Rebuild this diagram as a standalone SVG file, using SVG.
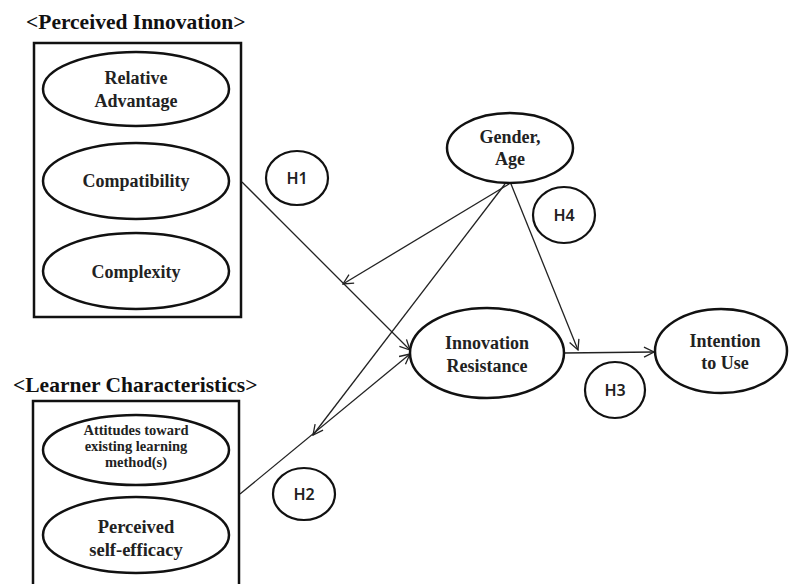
<svg xmlns="http://www.w3.org/2000/svg" width="791" height="584" viewBox="0 0 791 584">
<style>
.box{fill:none;stroke:#111;stroke-width:2.5}
.ell{fill:#fff;stroke:#111;stroke-width:2.5}
.hyp{fill:#fff;stroke:#111;stroke-width:2.2}
.t{font-family:"Liberation Serif","Times New Roman",serif;font-weight:bold;fill:#222;text-anchor:middle;font-size:18px}
.ti{font-family:"Liberation Serif","Times New Roman",serif;font-weight:bold;fill:#111;font-size:21.5px}
.h{font-family:"Noto Sans","Liberation Sans",Arial,sans-serif;font-weight:600;fill:#222;text-anchor:middle;font-size:16px}
.c{fill:none;stroke:#222;stroke-width:1.3}
</style>
<defs>
<marker id="arr" markerWidth="12" markerHeight="12" refX="11" refY="6" orient="auto" markerUnits="userSpaceOnUse">
<path d="M1,1 L11,6 L1,11" fill="none" stroke="#222" stroke-width="1.3"/>
</marker>
</defs>
<rect width="791" height="584" fill="#fff"/>

<g id="connectors">
<line class="c" x1="242" y1="182" x2="410" y2="350" marker-end="url(#arr)"/>
<line class="c" x1="509" y1="184" x2="343" y2="284" marker-end="url(#arr)"/>
<line class="c" x1="505" y1="184" x2="313" y2="435" marker-end="url(#arr)"/>
<line class="c" x1="240" y1="494" x2="410" y2="354" marker-end="url(#arr)"/>
<line class="c" x1="511" y1="184" x2="578" y2="350" marker-end="url(#arr)"/>
<line class="c" x1="564" y1="353" x2="654" y2="352" marker-end="url(#arr)"/>
</g>

<g id="perceived-innovation">
<text class="ti" x="26" y="29">&lt;Perceived Innovation&gt;</text>
<rect class="box" x="34" y="43" width="207" height="274"/>
</g>
<g id="relative-advantage">
<ellipse class="ell" cx="136" cy="89" rx="93" ry="37"/>
<text class="t" x="136" y="84">Relative</text>
<text class="t" x="136" y="107">Advantage</text>
</g>
<g id="compatibility">
<ellipse class="ell" cx="136" cy="181" rx="93" ry="38"/>
<text class="t" x="136" y="187">Compatibility</text>
</g>
<g id="complexity">
<ellipse class="ell" cx="136" cy="271" rx="93" ry="38"/>
<text class="t" x="136" y="278">Complexity</text>
</g>

<g id="learner-characteristics">
<text class="ti" x="13" y="392">&lt;Learner Characteristics&gt;</text>
<rect class="box" x="33" y="401" width="206" height="200"/>
</g>
<g id="attitudes">
<ellipse class="ell" cx="136" cy="450" rx="93" ry="35"/>
<text class="t" style="font-size:14.5px" x="136" y="435">Attitudes toward</text>
<text class="t" style="font-size:14.5px" x="136" y="451">existing learning</text>
<text class="t" style="font-size:14.5px" x="136" y="467">method(s)</text>
</g>
<g id="self-efficacy">
<ellipse class="ell" cx="136" cy="535" rx="93" ry="38"/>
<text class="t" style="font-size:18.5px" x="136" y="533">Perceived</text>
<text class="t" style="font-size:18.5px" x="136" y="556">self-efficacy</text>
</g>

<g id="gender-age">
<ellipse class="ell" cx="510" cy="148" rx="63" ry="35"/>
<text class="t" x="510" y="143">Gender,</text>
<text class="t" x="510" y="165">Age</text>
</g>
<g id="innovation-resistance">
<ellipse class="ell" cx="487" cy="353" rx="77" ry="45"/>
<text class="t" x="487" y="349">Innovation</text>
<text class="t" x="487" y="372">Resistance</text>
</g>
<g id="intention-to-use">
<ellipse class="ell" cx="721" cy="351" rx="66" ry="42"/>
<text class="t" x="725" y="347">Intention</text>
<text class="t" x="725" y="369">to Use</text>
</g>

<g id="h1"><ellipse class="hyp" cx="297" cy="178" rx="31" ry="27"/><text class="h" x="297" y="184">H1</text></g>
<g id="h2"><ellipse class="hyp" cx="304" cy="494" rx="31" ry="26"/><text class="h" x="304" y="500">H2</text></g>
<g id="h3"><ellipse class="hyp" cx="615" cy="390" rx="30" ry="28"/><text class="h" x="615" y="396">H3</text></g>
<g id="h4"><ellipse class="hyp" cx="564" cy="215" rx="31" ry="28"/><text class="h" x="564" y="221">H4</text></g>
</svg>
